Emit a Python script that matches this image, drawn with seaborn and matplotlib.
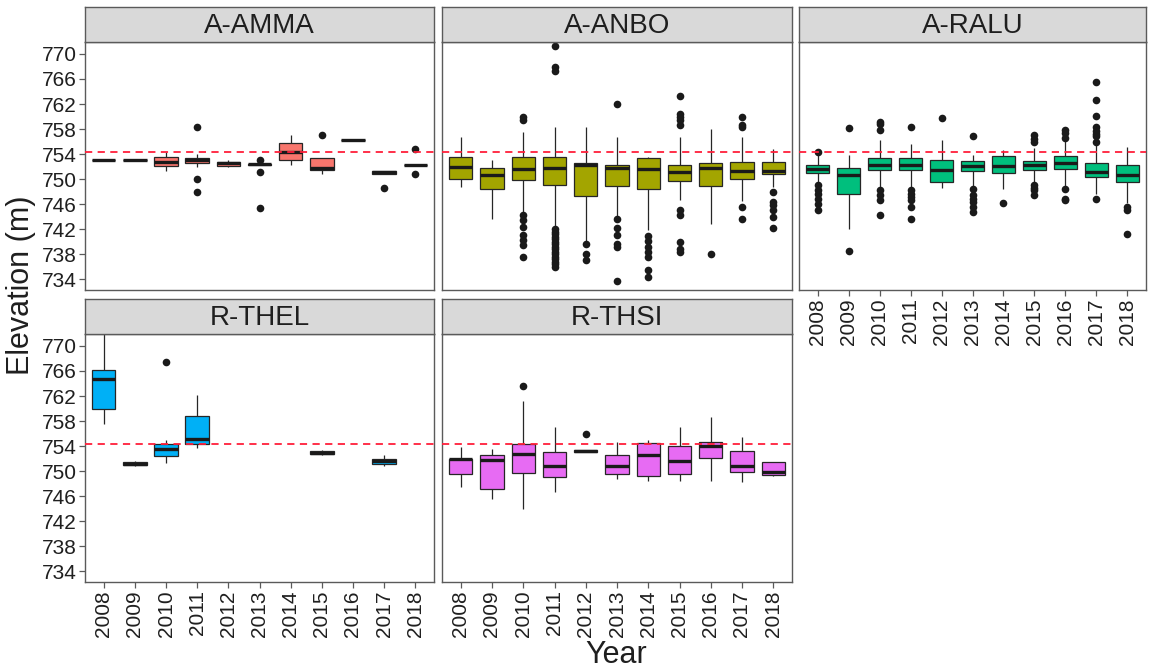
import numpy as np
import pandas as pd
import matplotlib
matplotlib.use("Agg")
import matplotlib.pyplot as plt
import seaborn as sns

# ---------------------------------------------------------------- data
years = [str(y) for y in range(2008, 2019)]
sites = ["A-AMMA", "A-ANBO", "A-RALU", "R-THEL", "R-THSI"]
site_colors = ["#F8766D", "#A3A500", "#00BF7D", "#00B0F6", "#E76BF3"]
reference_level = 754.4

# Box summaries per year: (lower whisker, Q1, median, Q3, upper whisker); None = no survey
amma_boxes = [
    (753.1, 753.1, 753.1, 753.1, 753.1),
    (753.1, 753.1, 753.1, 753.1, 753.1),
    (751.3, 752.05, 752.7, 753.5, 754.3),
    (751.9, 752.5, 753.0, 753.4, 754.0),
    (751.9, 752.1, 752.5, 752.7, 753.0),
    (752.2, 752.25, 752.35, 752.45, 752.6),
    (752.2, 753.1, 754.3, 755.8, 757.0),
    (750.8, 751.5, 751.8, 753.4, 753.4),
    (756.3, 756.3, 756.3, 756.3, 756.3),
    (750.9, 750.9, 751.1, 751.3, 751.3),
    (752.2, 752.2, 752.2, 752.2, 752.2),
]
amma_outliers = {
    "2011": [758.3, 750.0, 748.0],
    "2013": [753.0, 751.2, 745.4],
    "2015": [757.1],
    "2017": [748.6],
    "2018": [754.8, 750.8],
}

anbo_boxes = [
    (748.75, 750.1, 751.95, 753.5, 756.7),
    (743.7, 748.5, 750.7, 751.8, 753.0),
    (744.8, 749.8, 751.6, 753.5, 757.5),
    (742.4, 749.1, 751.8, 753.5, 758.3),
    (739.7, 747.3, 752.2, 752.5, 758.4),
    (744.0, 748.9, 751.8, 752.3, 756.7),
    (741.9, 748.5, 751.7, 753.4, 753.6),
    (746.6, 749.7, 751.1, 752.3, 756.7),
    (742.9, 748.9, 751.8, 752.6, 758.05),
    (746.5, 750.0, 751.25, 752.8, 756.7),
    (748.7, 750.9, 751.25, 752.7, 754.75),
]
anbo_outliers = {
    "2010": [759.9, 759.4, 744.3, 743.4, 742.4, 741.1, 740.3, 739.5, 737.6],
    "2011": [771.3, 767.9, 767.2, 742.0, 741.6, 741.2, 740.8, 740.4, 740.0,
             739.6, 739.2, 738.8, 738.4, 738.0, 737.6, 737.2, 736.8, 736.4, 736.0],
    "2012": [739.6, 738.0, 737.1],
    "2013": [762.0, 743.7, 742.2, 741.1, 739.7, 739.2, 733.7],
    "2014": [740.9, 740.2, 739.2, 738.4, 737.6, 735.5, 734.4],
    "2015": [763.2, 760.4, 759.9, 759.5, 758.6, 745.0, 744.2, 740.0, 738.9, 738.4],
    "2016": [738.1],
    "2017": [759.9, 758.6, 758.3, 745.6, 743.7],
    "2018": [748.0, 746.4, 745.8, 745.0, 743.9, 742.2],
}

ralu_boxes = [
    (749.3, 751.0, 751.7, 752.3, 753.9),
    (742.1, 747.7, 750.6, 751.8, 753.8),
    (748.5, 751.4, 752.3, 753.4, 756.2),
    (748.6, 751.4, 752.3, 753.4, 755.55),
    (748.6, 749.55, 751.5, 753.0, 756.2),
    (748.7, 751.3, 752.05, 752.9, 753.8),
    (748.4, 751.0, 752.05, 753.7, 754.7),
    (749.6, 751.4, 752.2, 752.85, 755.0),
    (748.7, 751.7, 752.5, 753.7, 756.2),
    (747.7, 750.35, 751.1, 752.5, 755.7),
    (746.2, 749.55, 750.6, 752.2, 755.2),
]
ralu_outliers = {
    "2008": [754.3, 749.0, 748.2, 747.7, 746.9, 746.1, 745.15],
    "2009": [758.2, 738.55],
    "2010": [759.1, 758.8, 757.8, 748.2, 747.4, 746.6, 744.2],
    "2011": [758.3, 748.2, 747.7, 747.1, 746.6, 745.6, 743.6],
    "2012": [759.8],
    "2013": [756.9, 748.4, 747.4, 746.9, 746.3, 745.6, 744.8],
    "2014": [746.2],
    "2015": [757.1, 756.4, 755.9, 749.0, 748.6, 748.2, 747.4],
    "2016": [757.9, 757.4, 756.6, 748.4, 746.9, 746.6],
    "2017": [765.5, 762.6, 760.1, 758.3, 757.7, 757.2, 756.9, 755.9, 746.8],
    "2018": [745.6, 745.0, 741.3],
}

thel_boxes = [
    (757.6, 759.9, 764.7, 766.1, 773.0),
    (750.8, 750.95, 751.2, 751.45, 751.7),
    (751.3, 752.4, 753.5, 754.4, 754.9),
    (753.7, 754.4, 755.1, 758.75, 762.2),
    None,
    None,
    None,
    (752.6, 752.7, 752.95, 753.15, 753.3),
    None,
    (750.9, 751.2, 751.6, 752.0, 752.5),
    None,
]
thel_outliers = {
    "2010": [767.4],
}

thsi_boxes = [
    (747.5, 749.6, 751.9, 752.0, 753.86),
    (745.5, 747.2, 751.73, 752.64, 753.6),
    (744.0, 749.7, 752.7, 754.4, 761.2),
    (746.7, 749.07, 750.8, 753.06, 757.06),
    (753.06, 753.06, 753.2, 753.4, 753.4),
    (748.8, 749.6, 750.9, 752.5, 754.7),
    (748.5, 749.2, 752.5, 754.55, 754.9),
    (748.5, 749.6, 751.7, 754.0, 757.06),
    (748.5, 752.1, 754.0, 754.66, 758.65),
    (748.2, 749.9, 750.9, 753.17, 755.5),
    (749.2, 749.45, 749.87, 751.4, 751.4),
]
thsi_outliers = {
    "2010": [763.6],
    "2012": [755.9],
}

all_boxes = [amma_boxes, anbo_boxes, ralu_boxes, thel_boxes, thsi_boxes]
all_outliers = [amma_outliers, anbo_outliers, ralu_outliers, thel_outliers, thsi_outliers]

box_rows, out_rows = [], []
for site, boxes, outs in zip(sites, all_boxes, all_outliers):
    for yr, summary in zip(years, boxes):
        if summary is None:
            continue
        for v in summary:
            box_rows.append((site, yr, v))
    for yr, vals in outs.items():
        for v in vals:
            out_rows.append((site, yr, v))
box_df = pd.DataFrame(box_rows, columns=["site", "year", "elevation"])
out_df = pd.DataFrame(out_rows, columns=["site", "year", "elevation"])

# ---------------------------------------------------------------- style
sns.set_theme(style="white")
plt.rcParams["font.family"] = ["Liberation Sans", "DejaVu Sans"]
text_col = "#1f1f1f"
frame_col = "#5a5a5a"

W, H = 1149, 671
fig = plt.figure(figsize=(W / 100, H / 100), dpi=100)

col_x = [(85, 434), (442, 792), (799, 1146)]
row_y = [(42, 290), (334, 582)]
strip_y = [(6.5, 42), (299, 334)]
ylim = (732.3, 771.9)
yticks = list(range(734, 771, 4))


def px_rect(x0, x1, y0, y1):
    return [x0 / W, 1 - y1 / H, (x1 - x0) / W, (y1 - y0) / H]


for i, (site, color) in enumerate(zip(sites, site_colors)):
    r, c = divmod(i, 3)
    x0, x1 = col_x[c]
    ax = fig.add_axes(px_rect(x0, x1, *row_y[r]))

    sub = box_df[box_df["site"] == site]
    sns.boxplot(
        data=sub, x="year", y="elevation", order=years, ax=ax,
        color=color, saturation=1, width=0.75, whis=(0, 100),
        linecolor="#262626", linewidth=0.9, showcaps=False,
        medianprops=dict(linewidth=2.4, color="#1a1a1a"),
    )
    pts = out_df[out_df["site"] == site]
    sns.stripplot(
        data=pts, x="year", y="elevation", order=years, ax=ax,
        jitter=False, color="#1a1a1a", size=5.5, linewidth=0, zorder=4,
    )
    ax.axhline(reference_level, color="#FF1F3A", lw=1.3, ls=(0, (4, 3)), zorder=5)

    ax.set_xlim(-0.6, 10.6)
    ax.set_ylim(*ylim)
    ax.set_yticks(yticks)
    ax.set_xlabel("")
    ax.set_ylabel("")
    for sp in ax.spines.values():
        sp.set_color(frame_col)
        sp.set_linewidth(1.0)
    ax.grid(False)

    show_x = (r == 1) or (c == 2)
    show_y = (c == 0)
    ax.tick_params(axis="x", bottom=show_x, labelbottom=show_x, length=4,
                   width=0.9, color=frame_col, labelsize=15, labelcolor=text_col,
                   labelrotation=90, pad=2)
    ax.tick_params(axis="y", left=show_y, labelleft=show_y, length=4,
                   width=0.9, color=frame_col, labelsize=15, labelcolor=text_col, pad=2)

    sax = fig.add_axes(px_rect(x0, x1, *strip_y[r]))
    sax.set_facecolor("#D9D9D9")
    sax.set_xticks([])
    sax.set_yticks([])
    for sp in sax.spines.values():
        sp.set_color(frame_col)
        sp.set_linewidth(1.0)
    sax.text(0.5, 0.45, site, ha="center", va="center", fontsize=20,
             color=text_col, transform=sax.transAxes)

fig.text(21 / W, 1 - 285 / H, "Elevation (m)", rotation=90, ha="center",
         va="center", fontsize=22, color=text_col)
fig.text(616 / W, 1 - 655 / H, "Year", ha="center", va="center",
         fontsize=22, color=text_col)

fig.savefig("out.png", dpi=100, facecolor="white")
